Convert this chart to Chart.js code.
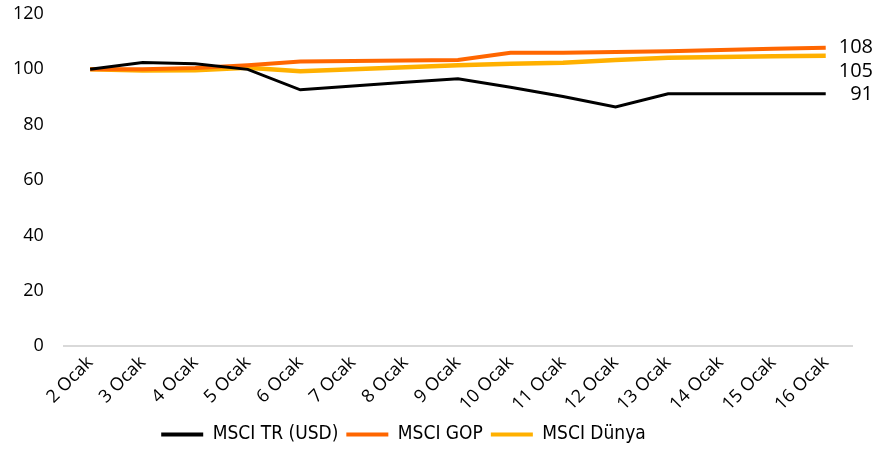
<!DOCTYPE html>
<html>
<head>
<meta charset="utf-8">
<script src="https://cdn.jsdelivr.net/npm/chart.js@4.4.0/dist/chart.umd.min.js"></script>
<style>
  html, body { margin: 0; padding: 0; background: #fff; }
  #wrap { width: 875px; height: 451px; }
</style>
</head>
<body>
<div id="wrap"><canvas id="grafico"></canvas></div>
<script>
const gunler = ['2 Ocak', '3 Ocak', '4 Ocak', '5 Ocak', '6 Ocak', '7 Ocak', '8 Ocak', '9 Ocak',
    '10 Ocak', '11 Ocak', '12 Ocak', '13 Ocak', '14 Ocak', '15 Ocak', '16 Ocak'];

const msciTr = [100, 102.5, 102, 100, 92.6, 94, 95.3, 96.6, 93.5, 90.2, 86.4, 91.2, 91.2, 91.2, 91.2];
const msciGop = [100, 100, 100.5, 101.5, 102.8, 103, 103.2, 103.4, 106, 106, 106.3, 106.5, 107, 107.4, 107.8];
const msciDunya = [100, 99.6, 99.7, 100.6, 99.3, 100, 100.8, 101.5, 102, 102.4, 103.4, 104.2, 104.5, 104.7, 104.9];

const sonEtiketler = ['91', '108', '105'];
const yTikler = [0, 20, 40, 60, 80, 100, 120];

const renkler = ['#000000', '#FF6600', '#FFB000'];
const kalinliklar = [3, 4, 4.5];
const etiketKaydir = [1, 0, 16]; // etiketler birbirine binmesin

// serilerin sonuna deger etiketi
const sonDeger = {
    id: 'sonDeger',
    afterDatasetsDraw(chart) {
        const ctx = chart.ctx;
        const sag = chart.chartArea.right + 21;
        ctx.save();
        ctx.font = '20px "Open Sans", sans-serif';
        ctx.fillStyle = '#000';
        ctx.textAlign = 'right';
        ctx.textBaseline = 'middle';
        chart.data.datasets.forEach((ds, i) => {
            const meta = chart.getDatasetMeta(i);
            const nokta = meta.data[meta.data.length - 1];
            ctx.fillText(sonEtiketler[i], sag, nokta.y + etiketKaydir[i]);
        });
        ctx.restore();
    }
};

// lejanti biraz sola ve asagi kaydir
const lejantKaydir = {
    id: 'lejantKaydir',
    afterLayout(chart) {
        chart.legend.left -= 26;
        chart.legend.right -= 26;
        chart.legend.top += 5;
        chart.legend.bottom += 5;
    }
};

const ctx = document.getElementById('grafico').getContext('2d');
new Chart(ctx, {
    type: 'line',
    data: {
        labels: gunler,
        datasets: [
            { label: 'MSCI TR (USD)', data: msciTr },
            { label: 'MSCI GOP', data: msciGop },
            { label: 'MSCI Dünya', data: msciDunya }
        ].map((ds, i) => Object.assign(ds, {
            borderColor: renkler[i],
            backgroundColor: renkler[i],
            borderWidth: kalinliklar[i],
            pointRadius: 0,
            tension: 0,
            fill: false
        }))
    },
    options: {
        responsive: true,
        maintainAspectRatio: false,
        animation: false,
        layout: { padding: { left: 7, right: 23, top: 14, bottom: 2 } },
        plugins: {
            tooltip: { enabled: false },
            legend: {
                position: 'bottom',
                labels: {
                    boxWidth: 42,
                    boxHeight: 4,
                    padding: 8,
                    color: '#000',
                    font: { family: '"DejaVu Sans Condensed", "DejaVu Sans", sans-serif', size: 19 },
                    generateLabels(chart) {
                        return chart.data.datasets.map((ds, i) => ({
                            text: ds.label,
                            fillStyle: renkler[i],
                            strokeStyle: renkler[i],
                            lineWidth: 0,
                            datasetIndex: i
                        }));
                    }
                }
            }
        },
        scales: {
            x: {
                offset: true,
                grid: { display: false, drawTicks: false },
                border: { display: true, color: '#d9d9d9', width: 2 },
                afterFit(s) {
                    s.paddingLeft = 0;
                    s.height -= 9;
                },
                ticks: {
                    color: '#000',
                    maxRotation: 45,
                    minRotation: 45,
                    autoSkip: false,
                    padding: 6,
                    font: { family: '"Open Sans", sans-serif', size: 18 }
                }
            },
            y: {
                min: 0,
                max: 120,
                afterBuildTicks(axis) {
                    axis.ticks = yTikler.map(v => ({ value: v }));
                },
                afterFit(s) { s.paddingTop = 0; },
                grid: { display: false, tickLength: 14 },
                border: { display: false },
                ticks: {
                    color: '#000',
                    padding: 6,
                    font: { family: '"Open Sans", sans-serif', size: 18 }
                }
            }
        }
    },
    plugins: [sonDeger, lejantKaydir]
});
</script>
</body>
</html>
